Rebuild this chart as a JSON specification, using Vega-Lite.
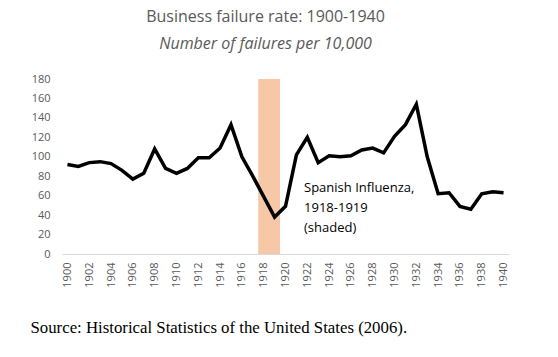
{
  "$schema": "https://vega.github.io/schema/vega-lite/v6.json",
  "width": 447,
  "height": 175,
  "autosize": "none",
  "padding": {"left": 62, "top": 79, "right": 49, "bottom": 103},
  "background": "white",
  "config": {"view": {"stroke": null}, "font": "Open Sans"},
  "title": {
    "text": "Business failure rate: 1900-1940",
    "subtitle": "Number of failures per 10,000",
    "anchor": "middle",
    "dx": -20,
    "offset": 21,
    "font": "Open Sans",
    "fontSize": 16,
    "fontWeight": "normal",
    "color": "#595959",
    "subtitleFont": "Open Sans",
    "subtitleFontSize": 16,
    "subtitleFontStyle": "italic",
    "subtitleColor": "#595959",
    "subtitlePadding": 11
  },
  "datasets": {
    "rate": [
      {"year": 1900, "rate": 92}, {"year": 1901, "rate": 90}, {"year": 1902, "rate": 94},
      {"year": 1903, "rate": 95}, {"year": 1904, "rate": 93}, {"year": 1905, "rate": 86},
      {"year": 1906, "rate": 77}, {"year": 1907, "rate": 83}, {"year": 1908, "rate": 108},
      {"year": 1909, "rate": 88}, {"year": 1910, "rate": 83}, {"year": 1911, "rate": 88},
      {"year": 1912, "rate": 99}, {"year": 1913, "rate": 99}, {"year": 1914, "rate": 109},
      {"year": 1915, "rate": 133}, {"year": 1916, "rate": 100}, {"year": 1917, "rate": 80},
      {"year": 1918, "rate": 59}, {"year": 1919, "rate": 38}, {"year": 1920, "rate": 49},
      {"year": 1921, "rate": 102}, {"year": 1922, "rate": 120}, {"year": 1923, "rate": 94},
      {"year": 1924, "rate": 101}, {"year": 1925, "rate": 100}, {"year": 1926, "rate": 101},
      {"year": 1927, "rate": 107}, {"year": 1928, "rate": 109}, {"year": 1929, "rate": 104},
      {"year": 1930, "rate": 121}, {"year": 1931, "rate": 133}, {"year": 1932, "rate": 154},
      {"year": 1933, "rate": 100}, {"year": 1934, "rate": 62}, {"year": 1935, "rate": 63},
      {"year": 1936, "rate": 49}, {"year": 1937, "rate": 46}, {"year": 1938, "rate": 62},
      {"year": 1939, "rate": 64}, {"year": 1940, "rate": 63}
    ],
    "shade": [{"year": 1917.5, "year2": 1919.5, "rate": 0, "rate2": 180}],
    "note": [{"year": 1921.7, "rate": 64, "label": ["Spanish Influenza,", "1918-1919", "(shaded)"]}]
  },
  "encoding": {
    "x": {
      "field": "year", "type": "quantitative",
      "scale": {"domain": [1899.5, 1940.5], "nice": false, "zero": false},
      "axis": {
        "values": [1900,1902,1904,1906,1908,1910,1912,1914,1916,1918,1920,1922,1924,1926,1928,1930,1932,1934,1936,1938,1940],
        "format": "d",
        "labelAngle": 270,
        "labelAlign": "right",
        "labelBaseline": "middle",
        "labelPadding": 8,
        "labelFontSize": 11,
        "labelColor": "#595959",
        "labelFont": "Open Sans",
        "ticks": false,
        "grid": false,
        "domainColor": "#d9d9d9",
        "domainWidth": 1,
        "labelOverlap": false,
        "title": "Source: Historical Statistics of the United States (2006).",
        "titleFont": "Liberation Serif",
        "titleFontSize": 16.8,
        "titleFontWeight": "normal",
        "titleColor": "black",
        "titleAnchor": "start",
        "titleAlign": "left",
        "titleBaseline": "middle",
        "titleX": -32,
        "titleY": 73
      }
    },
    "y": {
      "field": "rate", "type": "quantitative",
      "scale": {"domain": [0, 180], "nice": false},
      "axis": {
        "values": [0,20,40,60,80,100,120,140,160,180],
        "labelFontSize": 11,
        "labelColor": "#595959",
        "labelFont": "Open Sans",
        "labelPadding": 12,
        "labelOverlap": false,
        "ticks": false,
        "domain": false,
        "grid": false,
        "title": null
      }
    }
  },
  "layer": [
    {
      "data": {"name": "shade"},
      "mark": {"type": "rect", "color": "#f7c8a8"},
      "encoding": {
        "x2": {"field": "year2"},
        "y2": {"field": "rate2"}
      }
    },
    {
      "data": {"name": "rate"},
      "mark": {"type": "line", "color": "black", "strokeWidth": 3.5, "strokeJoin": "miter"}
    },
    {
      "data": {"name": "note"},
      "mark": {"type": "text", "align": "left", "baseline": "alphabetic", "fontSize": 13, "font": "Open Sans", "color": "black", "lineHeight": 20},
      "encoding": {
        "text": {"field": "label"}
      }
    }
  ]
}
